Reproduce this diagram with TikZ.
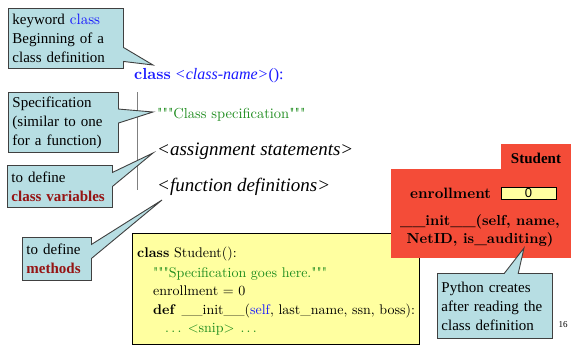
\documentclass[tikz,border=0pt]{standalone}
\usepackage{fontspec}
\setmainfont{Liberation Serif}
\newfontfamily\codefont[BoldFont=lmroman10-bold.otf, ItalicFont=lmroman10-italic.otf]{lmroman10-regular.otf}
\newfontfamily\digitfont{Liberation Sans}
\usetikzlibrary{shapes.callouts}
\definecolor{noteBlue}{RGB}{183,222,227}
\definecolor{codeYellow}{RGB}{255,255,160}
\definecolor{objectRed}{RGB}{244,76,56}
\definecolor{codeGreen}{RGB}{30,140,30}
\definecolor{keyBlue}{RGB}{25,25,255}
\definecolor{darkRed}{RGB}{150,20,20}

\begin{document}
\begin{tikzpicture} [x = 1pt, y = -1pt,
	note/.style = {rectangle callout, fill=noteBlue, draw=black!75, line width=0.9pt, align=left, anchor=north west, inner xsep=4pt, inner ysep=3pt, font=\fontsize{15}{19}\selectfont, callout pointer width=14pt},
	codeline/.style = {anchor=base west, inner sep=0pt, font=\codefont\fontsize{14}{17}\selectfont},
	mainline/.style = {anchor=base west, inner sep=0pt, font=\fontsize{19}{22}\selectfont}]

	\useasboundingbox (0, 0) rectangle (571, 346);

		% Define coordinates.

	%pointer tips
	\coordinate (kwTip) at (153, 65);
	\coordinate (specTip) at (153, 112);
	\coordinate (varTip) at (153, 153);
	\coordinate (methodTip) at (162, 200);
	\coordinate (pythonTip) at (524, 248);

	%body bar
	\coordinate (barTop) at (137, 92);
	\coordinate (barBottom) at (137, 190);

% Draw class template.

	\node[mainline, font=\fontsize{16}{20}\selectfont] (header) at (134, 79) {\color{keyBlue}{\codefont\bfseries class} \textit{<class-name>}():};
	\node[mainline, font=\codefont\fontsize{14.5}{18}\selectfont, text=codeGreen] (specLine) at (157, 118) {"""Class specification"""};
	\node[mainline] (assignLine) at (157, 155) {\textit{<assignment statements>}};
	\node[mainline] (funcLine) at (157, 191) {\textit{<function definitions>}};

	\draw[gray, line width=0.8pt] (barTop) -- (barBottom);

% Draw notes.

	\node[note, text width=107pt, minimum height=60pt, callout absolute pointer={(kwTip)}] (kwNote) at (8, 8) {keyword {\codefont\color{keyBlue}class}\\ Beginning of a\\ class definition};
	\node[note, text width=102pt, minimum height=60pt, callout absolute pointer={(specTip)}] (specNote) at (8, 92) {Specification\\ (similar to one\\ for a function)};
	\node[note, text width=97pt, minimum height=42pt, callout absolute pointer={(varTip)}] (varNote) at (7, 165) {to define\\ \textcolor{darkRed}{\textbf{class variables}}};
	\node[note, text width=61pt, minimum height=43pt, callout absolute pointer={(methodTip)}] (methodNote) at (22, 237) {to define\\ \textcolor{darkRed}{\textbf{methods}}};

% Draw example code.

	\draw[fill=codeYellow, line width=0.8pt] (132, 233) rectangle (419, 344);

	\node[codeline] (code1) at (137, 257) {\textbf{class} Student():};
	\node[codeline, text=codeGreen] (code2) at (153, 277) {"""Specification goes here."""};
	\node[codeline] (code3) at (153, 295) {enrollment = 0};
	\node[codeline] (code4) at (153, 314) {\textbf{def}\hspace{6pt}\_\_init\_\_(\textcolor{keyBlue}{self}, last\_name, ssn, boss):};
	\node[codeline, text=codeGreen] (code5) at (165, 332) {.\,.\,. <snip>\hspace{6pt}.\,.\,.};

% Draw class object.

	\fill[objectRed] (391, 169) rectangle (571, 258);
	\fill[objectRed] (501, 144) rectangle (571, 169);

	\node[font=\bfseries\fontsize{15}{18}\selectfont] (className) at (536, 158) {Student};
	\node[anchor=base west, inner sep=0pt, font=\codefont\bfseries\fontsize{15}{18}\selectfont] (enrollLabel) at (410, 198) {enrollment};
	\node[draw=black, fill=codeYellow, minimum width=55pt, minimum height=12pt, inner sep=0pt, font=\digitfont\fontsize{13}{13}\selectfont] (enrollSlot) at (528.5, 193) {0};
	\node[align=center, font=\codefont\bfseries\fontsize{14.5}{18}\selectfont] (initSig) at (480, 231) {\_\_init\_\_(self, name,\\ NetID, is\_auditing)};

	\node[note, text width=107pt, minimum height=65pt, callout absolute pointer={(pythonTip)}] (pythonNote) at (437, 273) {Python creates\\ after reading the\\ class definition};

	\node[font=\fontsize{9}{9}\selectfont] (pageNum) at (563, 325) {16};

	\end{tikzpicture}
\end{document}
